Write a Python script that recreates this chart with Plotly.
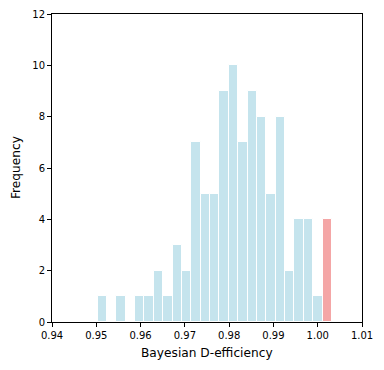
import plotly.graph_objects as go

# histogram of Bayesian D-efficiency for 100 designs (25 bins)
bin_start = 0.9503
bin_width = 0.002116
counts = [1, 0, 1, 0, 1, 1, 2, 1, 3, 2, 7, 5, 5, 9, 10, 7, 9, 8, 5, 8, 2, 4, 4, 1, 4]
best_bin = 24  # bin holding the best design, drawn in red

x_ticks = [0.94, 0.95, 0.96, 0.97, 0.98, 0.99, 1.00, 1.01]
x_ticklabels = ["0.94", "0.95", "0.96", "0.97", "0.98", "0.99", "1.00", "1.01"]
y_ticks = [0, 2, 4, 6, 8, 10, 12]

centers = [bin_start + bin_width * (i + 0.5) for i in range(len(counts))]
colors = ["rgba(240,128,128,0.7)" if i == best_bin else "rgba(173,216,230,0.7)"
          for i in range(len(counts))]

fig = go.Figure()
fig.add_trace(go.Bar(
    x=centers,
    y=counts,
    width=bin_width,
    marker=dict(color=colors, line=dict(color="white", width=1)),
    showlegend=False,
))

axis_common = dict(
    showgrid=False, zeroline=False, automargin=False,
    showline=True, linecolor="black", linewidth=1, mirror=True,
    ticks="outside", ticklen=4, tickwidth=1, tickcolor="black",
    tickfont=dict(size=10, color="black"),
)

fig.update_layout(
    width=384, height=370,
    margin=dict(l=52, r=22, t=14, b=48),
    plot_bgcolor="white", paper_bgcolor="white",
    font=dict(family="DejaVu Sans", color="black"),
    bargap=0,
    xaxis=dict(range=[0.94, 1.01], tickvals=x_ticks, ticktext=x_ticklabels, **axis_common),
    yaxis=dict(range=[0, 12], tickvals=y_ticks, **axis_common),
)

# axis titles placed as annotations so the plot area stays fixed
fig.add_annotation(text="Bayesian D-efficiency", xref="paper", yref="paper",
                   x=0.5, y=0, yshift=-31, xanchor="center", yanchor="middle",
                   showarrow=False, font=dict(size=12.2))
fig.add_annotation(text="Frequency", xref="paper", yref="paper",
                   x=0, y=0.5, xshift=-36, xanchor="center", yanchor="middle",
                   textangle=-90, showarrow=False, font=dict(size=12.2))

fig.write_html("out.html", config={"displayModeBar": False},
               post_script="document.body.style.margin='0';")
